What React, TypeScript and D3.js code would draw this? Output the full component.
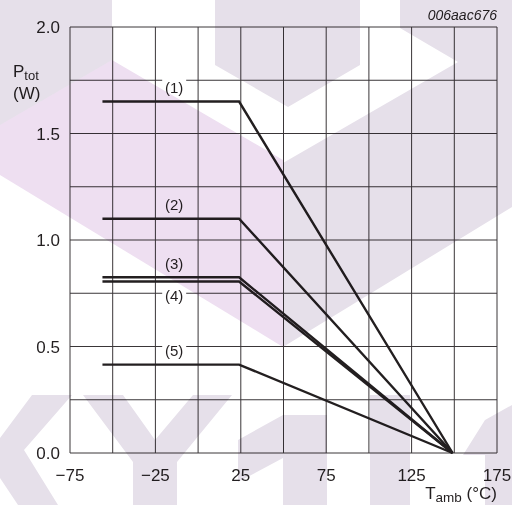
import React from "react";
import * as d3 from "d3";

// ---- data ----
const seriesLabels = ["(1)", "(2)", "(3)", "(4)", "(5)"];
const flatPower = [1.65, 1.1, 0.825, 0.805, 0.415]; // W
const tempStart = -56; // °C
const tempKnee = 24; // °C
const tempEnd = 149; // °C (P = 0)
const labelTemp = -14;
const labelSide = [-1, -1, -1, 1, -1]; // above (-1) or below (+1) the line

const xTickValues = [-75, -25, 25, 75, 125, 175];
const xTickLabels = ["\u221275", "\u221225", "25", "75", "125", "175"];
const yTickValues = [0, 0.5, 1.0, 1.5, 2.0];
const yTickLabels = ["0.0", "0.5", "1.0", "1.5", "2.0"];
const xGridStep = 25;
const yGridStep = 0.25;
const figureId = "006aac676";

// ---- background watermark (decoration) ----
const LAV = "#e6e0ea";
const PINK = "#eedff1";
const watermark: { fill: string; pts: [number, number][] }[] = [
  { fill: LAV, pts: [[0, 0], [112, 0], [112, 60], [0, 125]] },
  { fill: LAV, pts: [[215, 0], [360, 0], [360, 65], [288, 107], [215, 65]] },
  { fill: LAV, pts: [[400, 0], [512, 0], [512, 207], [283, 347], [283, 163], [458, 62], [400, 28]] },
  { fill: PINK, pts: [[0, 125], [112, 60], [283, 160], [283, 347], [0, 175]] },
  { fill: LAV, pts: [[32, 395], [72, 395], [24, 450], [58, 505], [18, 505], [0, 478], [0, 438]] },
  { fill: LAV, pts: [[83, 395], [123, 395], [155, 440], [193, 395], [232, 395], [177, 462], [177, 505], [133, 505], [133, 462]] },
  { fill: LAV, pts: [[238, 440], [283, 415], [327, 415], [327, 505], [283, 505], [283, 458], [238, 482]] },
  { fill: LAV, pts: [[370, 395], [410, 395], [410, 505], [370, 505]] },
  { fill: LAV, pts: [[463, 455], [485, 420], [512, 405], [512, 505], [485, 505], [485, 455]] },
];

const W = 512;
const H = 505;
const FONT = "'Liberation Sans', Arial, Helvetica, sans-serif";
const INK = "#231f20";

export default function App() {
  const x = d3.scaleLinear().domain([-75, 175]).range([70, 497]);
  const y = d3.scaleLinear().domain([0, 2]).range([453, 27]);
  const xGrid = d3.range(-75, 175 + 1e-6, xGridStep);
  const yGrid = d3.range(0, 2 + 1e-6, yGridStep);
  const line = d3
    .line<[number, number]>()
    .x((d) => x(d[0]))
    .y((d) => y(d[1]));

  return (
    <svg
      width={W}
      height={H}
      viewBox={`0 0 ${W} ${H}`}
      style={{ position: "absolute", left: 0, top: 0, background: "#fff" }}
      fontFamily={FONT}
    >
      <rect x={0} y={0} width={W} height={H} fill="#fff" />
      {/* grid */}
      <g stroke="#3a3638" strokeWidth={1} fill="none">
        {xGrid.map((t) => (
          <line key={"gx" + t} x1={x(t)} x2={x(t)} y1={y(0)} y2={y(2)} />
        ))}
        {yGrid.map((t) => (
          <line key={"gy" + t} x1={x(-75)} x2={x(175)} y1={y(t)} y2={y(t)} />
        ))}
      </g>
      {/* curves */}
      <g stroke={INK} strokeWidth={2.4} fill="none" strokeLinejoin="miter">
        {flatPower.map((p, i) => (
          <path
            key={"c" + i}
            d={line([
              [tempStart, p],
              [tempKnee, p],
              [tempEnd, 0],
            ]) || ""}
          />
        ))}
      </g>
      {/* curve labels */}
      {flatPower.map((p, i) => {
        const cx = x(labelTemp);
        const cy = y(p) + labelSide[i] * 14;
        return (
          <g key={"l" + i}>
            <rect x={cx - 12} y={cy - 9} width={24} height={18} fill="#fff" />
            <text
              x={cx}
              y={cy}
              dy="0.35em"
              textAnchor="middle"
              fontSize={15}
              fill={INK}
            >
              {seriesLabels[i]}
            </text>
          </g>
        );
      })}
      {/* y tick labels */}
      {yTickValues.map((v, i) => (
        <text
          key={"yt" + v}
          x={60}
          y={y(v)}
          dy="0.36em"
          textAnchor="end"
          fontSize={17}
          fill={INK}
        >
          {yTickLabels[i]}
        </text>
      ))}
      {/* x tick labels */}
      {xTickValues.map((v, i) => (
        <text
          key={"xt" + v}
          x={x(v)}
          y={481}
          textAnchor="middle"
          fontSize={17}
          fill={INK}
        >
          {xTickLabels[i]}
        </text>
      ))}
      {/* y axis title */}
      <text x={13} y={77} fontSize={17} fill={INK}>
        P
        <tspan fontSize={13} dy={3}>
          tot
        </tspan>
      </text>
      <text x={13} y={99} fontSize={17} fill={INK}>
        (W)
      </text>
      {/* x axis title */}
      <text x={497} y={499} textAnchor="end" fontSize={17} fill={INK}>
        T
        <tspan fontSize={13.5} dy={2.5}>
          amb
        </tspan>
        <tspan dy={-2.5}> (°C)</tspan>
      </text>
      {/* figure id */}
      <text
        x={497}
        y={20}
        textAnchor="end"
        fontSize={14}
        fontStyle="italic"
        fill={INK}
      >
        {figureId}
      </text>
      {/* watermark overlay */}
      <g>
        {watermark.map((w, i) => (
          <polygon
            key={"w" + i}
            points={w.pts.map((p) => p.join(",")).join(" ")}
            fill={w.fill}
            style={{ mixBlendMode: "multiply" }}
          />
        ))}
      </g>
    </svg>
  );
}
